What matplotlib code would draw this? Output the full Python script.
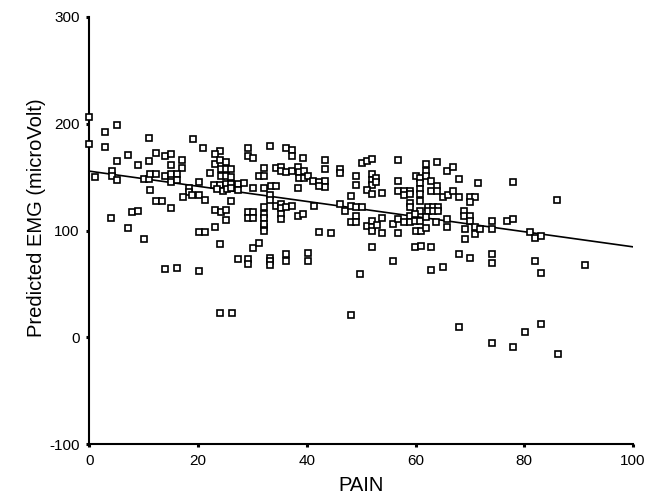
import matplotlib
matplotlib.use("Agg")
import matplotlib.pyplot as plt
import numpy as np

plt.rcParams['font.family'] = ['Liberation Sans', 'DejaVu Sans']
plt.rcParams['axes.unicode_minus'] = False

# Scatter data: PAIN (x) vs predicted EMG (y)
pain = [
    0, 0, 5.1, 2.9, 2.9, 11, 19, 21, 7.2, 5.1, 9, 11, 12.3, 13.9, 15, 15, 17.1, 17.1,
    4.1, 4.1, 5.1, 1, 10, 11, 11.2, 12.3, 13.9, 15, 16.1, 15, 16.1, 22.2,
    11.2, 12.3, 13.3, 18.3, 18.3, 17.2, 18.9, 20.1, 20.1, 21.2, 15, 7.9, 9, 3.9,
    7.1, 10, 20.1, 21.2,
    24, 23.2, 23.2, 24, 25.1, 24.2, 25.1, 26.1, 24.2, 25.1, 26.1, 22.9, 24, 25.1,
    26.1, 27.3, 28.4, 23.5, 24.5, 25.3, 26.1, 27.3, 30.2, 32.2, 26.1, 23.2, 24.2,
    25.1, 25.1, 23.2, 24, 29.1, 29.1, 30.2, 33.3, 36.2, 37.2, 37.2, 39.3, 43.4,
    43.4, 46.1, 46.1, 32.2, 34.4, 35.3, 35.3, 36.2, 37.2, 38.3, 38.5, 39.5, 38.5,
    39.5, 31.3, 32.2, 40.3, 41.2, 42.2, 43.4, 43.4, 42.2, 33.5, 34.4, 38.3, 33.3,
    33.3, 34.4, 35.3, 35.3, 36.2, 37.2, 41.4, 32.2, 32.2, 32.2, 32.2, 29.1, 29.1,
    30.2, 30.2, 35.2, 35.2, 38.3, 39.3, 32.2, 32.2, 42.2, 44.5, 30.2, 31.3,
    48.1, 48.1,
    50.1, 51, 52, 56.8, 61.9, 61.9, 64, 65.8, 66.9, 68, 71.5, 49, 49, 52, 52, 52,
    52.8, 52.8, 51, 52, 53.9, 56.8, 56.8, 57.9, 58.9, 57.9, 58.9, 60.1, 60.8,
    60.8, 60.8, 60.8, 60.8, 61.9, 62.9, 62.9, 64, 64, 65.1, 66, 66.9, 68, 70, 71,
    70, 68.9, 68.9, 70, 70, 59, 59, 62.3, 63.2, 64.1, 62.3, 63.2, 64.1, 60.8,
    46.1, 47, 48.1, 49, 50.1, 49, 49, 51, 52, 52, 52, 52.9, 53.9, 53.9, 55.9,
    56.8, 57.9, 59, 59, 59.9, 59.9, 60.9, 61.9, 56.8, 60.1, 61, 61.9, 63.8, 65.8,
    65.8, 69.1, 69.1, 52, 59.9, 61, 62.9, 70.9, 71,
    77.9, 86.1, 74, 74, 76.9, 77.9, 71.8, 81, 81.9, 83,
    13.9, 16.1, 20.1, 27.3, 29.1, 29.1, 33.3, 33.3, 33.3, 36.2, 36.2, 40.3, 40.3,
    24, 26.2, 48.1, 49.8,
    55.9, 62.9, 65.1, 68, 70, 74, 74, 81.9, 83, 91.1, 68, 83, 80.1, 74, 78, 86.2,
]
emg = [
    206, 181, 199, 192, 178, 187, 186, 177, 171, 165, 161, 165, 172.5, 170, 172, 161, 166, 159,
    155.6, 150.6, 147.5, 150, 148.4, 148.4, 153, 153, 151.5, 152.5, 153, 145, 147.5, 154,
    138, 128, 128, 140, 136, 131, 133.6, 133.6, 145, 128.6, 121, 117, 118.6, 111.7,
    102, 92.5, 99, 99,
    174.5, 172, 162.5, 166, 164, 158, 158, 158, 151.5, 150.6, 150, 143, 143, 143.7,
    143.7, 143.7, 144.3, 139, 137.4, 139, 140, 138, 140, 140, 127.4, 119, 117,
    119, 110, 103, 87, 177, 170, 168, 178.8, 177, 175.7, 170, 168, 165.6,
    158, 158, 154, 159, 159, 159.5, 156, 155, 156, 159.5, 155, 156, 149.4,
    149.4, 150.6, 150.6, 150.6, 146.8, 145.2, 146.2, 141.2, 142, 142, 142, 140, 133.6,
    128.6, 123, 125, 121, 122.3, 123, 123, 121.7, 115.7, 112, 103, 117, 112,
    117, 112, 115.7, 111, 114, 115, 106, 100, 99, 98, 84, 88.7,
    132.7, 107.6,
    163, 165, 167, 165.6, 162.5, 156, 163.8, 156, 159.5, 148.4, 144.3, 150.6, 142.8, 153, 147.5, 143,
    149.4, 145, 138, 134.3, 135, 146.8, 137.4, 137.4, 137.4, 133.6, 134.3, 151.5, 149.4,
    144.3, 139, 134.3, 128, 151.5, 146.8, 137.4, 142, 136.7, 131, 133.6, 136.7, 131.8, 131, 131,
    126.4, 118.6, 114, 114, 109, 125.5, 121.7, 121.7, 121.7, 121.7, 118.6, 118.6, 118.6, 118.6,
    125, 118.6, 123, 122.3, 121.7, 114, 107.6, 104.5, 109, 103.5, 99.8, 105.4, 111.7, 97.2, 106,
    110.8, 107.6, 114, 107.6, 115.7, 109.2, 109.2, 113, 98, 99.8, 99.8, 102.3, 107.6, 110.8,
    103.5, 101.6, 92, 84.7, 84.7, 85.6, 84.7, 103, 96.7,
    145, 128.6, 108.5, 101.4, 109.2, 110.8, 101.4, 99, 92.9, 95,
    63.7, 64.7, 62, 73, 73, 68.4, 74, 71, 68, 78.4, 71.5, 79.3, 71.5,
    23, 23, 21.3, 59,
    71, 62.7, 65.9, 77.8, 74, 77.8, 70, 71.5, 60.5, 67.8, 9.4, 12.5, 5, -5.4, -9.4, -15.7,
]

# Fitted regression line (value at PAIN = 0 and slope)
fit_intercept = 155.6
fit_slope = -0.709
fit_x = [0, 100]

x_ticks = [0, 20, 40, 60, 80, 100]
y_ticks = [-100, 0, 100, 200, 300]
x_label = "PAIN"
y_label = "Predicted EMG (microVolt)"

fig = plt.figure(figsize=(6.59, 4.96), dpi=100)
ax = fig.add_axes([89.3 / 659, 52 / 496, (633 - 89.3) / 659, (444 - 17) / 496])

ax.plot(pain, emg, linestyle='none', marker='s', markersize=4.6,
        markerfacecolor='white', markeredgecolor='black', markeredgewidth=1.2,
        clip_on=False, zorder=3)
fit_y = [fit_intercept + fit_slope * xv for xv in fit_x]
ax.plot(fit_x, fit_y, color='black', linewidth=1.2, zorder=2)

ax.set_xlim(0, 100)
ax.set_ylim(-100, 300)
ax.set_xticks(x_ticks)
ax.set_yticks(y_ticks)
ax.spines['top'].set_visible(False)
ax.spines['right'].set_visible(False)
for s in ('left', 'bottom'):
    ax.spines[s].set_linewidth(1.5)
ax.tick_params(direction='out', length=2, width=2.2, labelsize=11, pad=5)

ax.set_xlabel(x_label, fontsize=14.5)
ax.set_ylabel(y_label, fontsize=14.5)
ax.xaxis.set_label_coords(0.5, -0.075)
ax.yaxis.set_label_coords(-0.079, 0.53)

fig.savefig("out.png", dpi=100)
